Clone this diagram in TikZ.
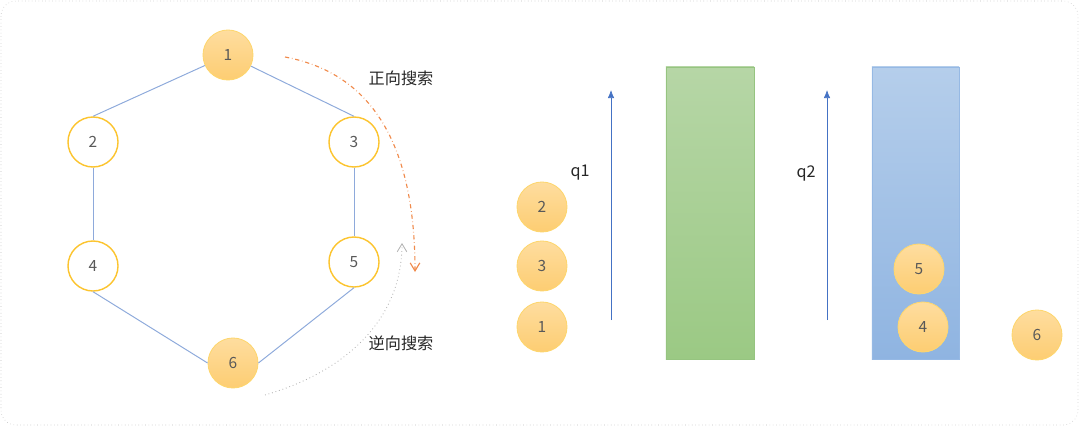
\documentclass[tikz,border=0pt]{standalone}
\usepackage{fontspec}
\setmainfont{Noto Sans CJK SC}
\usetikzlibrary{arrows.meta, positioning}
\usepackage{xcolor}
\definecolor{ringc}{HTML}{FCC42E}
\definecolor{ballt}{HTML}{FEDD9F}
\definecolor{ballb}{HTML}{FDCD72}
\definecolor{edgec}{HTML}{8EAADB}
\definecolor{arrc}{HTML}{4472C4}
\definecolor{numc}{HTML}{595959}
\definecolor{fwdc}{HTML}{F08A4B}
\definecolor{greent}{RGB}{182,214,166}
\definecolor{greenb}{RGB}{155,201,132}
\definecolor{greend}{RGB}{150,196,128}
\definecolor{bluet}{RGB}{181,206,235}
\definecolor{blueb}{RGB}{143,180,225}
\definecolor{blued}{RGB}{150,185,228}

\begin{document}
\begin{tikzpicture}[x=0.025cm, y=-0.025cm]
                \tikzstyle{vertex} = [shape=circle, draw=ringc, line width=1pt, fill=white, minimum size=1.25cm, inner sep=0pt, text=numc, font=\fontsize{11}{13}\selectfont];
                \tikzstyle{ball} = [vertex, draw=ringc!70, line width=0.6pt, top color=ballt, bottom color=ballb];
                \tikzstyle{link} = [draw=edgec, line width=0.7pt];
                \tikzstyle{qarrow} = [-{Latex[length=2mm,width=1.6mm]}, draw=arrc, line width=0.5pt];
                \tikzstyle{label} = [font=\fontsize{11.5}{13}\selectfont, text=black!85];
                \tikzstyle{stack} = [minimum height=7.3cm, inner sep=0pt, outer sep=0pt, line width=0.6pt];

                \useasboundingbox (0,0) rectangle (1080,427);
                \draw[black!25, dotted, rounded corners=0.375cm] (1,1) rectangle (1078,425);

                % graph
                \node[ball](N1) at (228,55) {1};
                \node[vertex](N2) at (93,142) {2};
                \node[vertex](N3) at (354,142) {3};
                \node[vertex](N4) at (93,266) {4};
                \node[vertex](N5) at (354,262) {5};
                \node[ball](N6) at (233,363) {6};

                \draw[link]
                    (N1) edge (N2.north)
                    (N1) edge (N3.north)
                    (N2) edge (N4)
                    (N3) edge (N5)
                    (N4.south) edge (N6.west)
                    (N5.south) edge (N6.east)
                ;

                % search directions
                \coordinate (FwdA) at (285,57);
                \coordinate (FwdB) at (415,272);
                \coordinate (BwdA) at (265,395);
                \coordinate (BwdB) at (402,243);
                \draw[fwdc, dash dot, line width=0.8pt, -{Straight Barb[length=2mm,width=2.4mm]}]
                    (FwdA) .. controls (365,72) and (415,135) .. (FwdB);
                \draw[black!30, dotted, line width=0.6pt, -{Straight Barb[length=2mm,width=2.4mm]}]
                    (BwdA) .. controls (345,372) and (402,320) .. (BwdB);
                \node[label](Fwd) at (401,78) {正向搜索};
                \node[label](Bwd) at (401,343) {逆向搜索};

                % queue q1
                \node[ball](A2) at (542,207) {2};
                \node[ball](A3) at (542,266) {3};
                \node[ball](A1) at (542,327) {1};
                \node[label](Q1) at (580,173) {q1};
                \coordinate (Q1lo) at (611,320);
                \coordinate (Q1hi) at (611,90);
                \draw[qarrow] (Q1lo) -- (Q1hi);
                \node[stack, minimum width=2.2cm, top color=greent, bottom color=greenb, draw=greend](Stack1) at (710,213) {};

                % queue q2
                \node[label](Q2) at (806,173) {q2};
                \coordinate (Q2lo) at (827,320);
                \coordinate (Q2hi) at (827,90);
                \draw[qarrow] (Q2lo) -- (Q2hi);
                \node[stack, minimum width=2.175cm, top color=bluet, bottom color=blueb, draw=blued](Stack2) at (915.5,213) {};
                \node[ball](B5) at (919,269) {5};
                \node[ball](B4) at (923,327) {4};
                \node[ball](B6) at (1037,335) {6};
            \end{tikzpicture}
\end{document}
